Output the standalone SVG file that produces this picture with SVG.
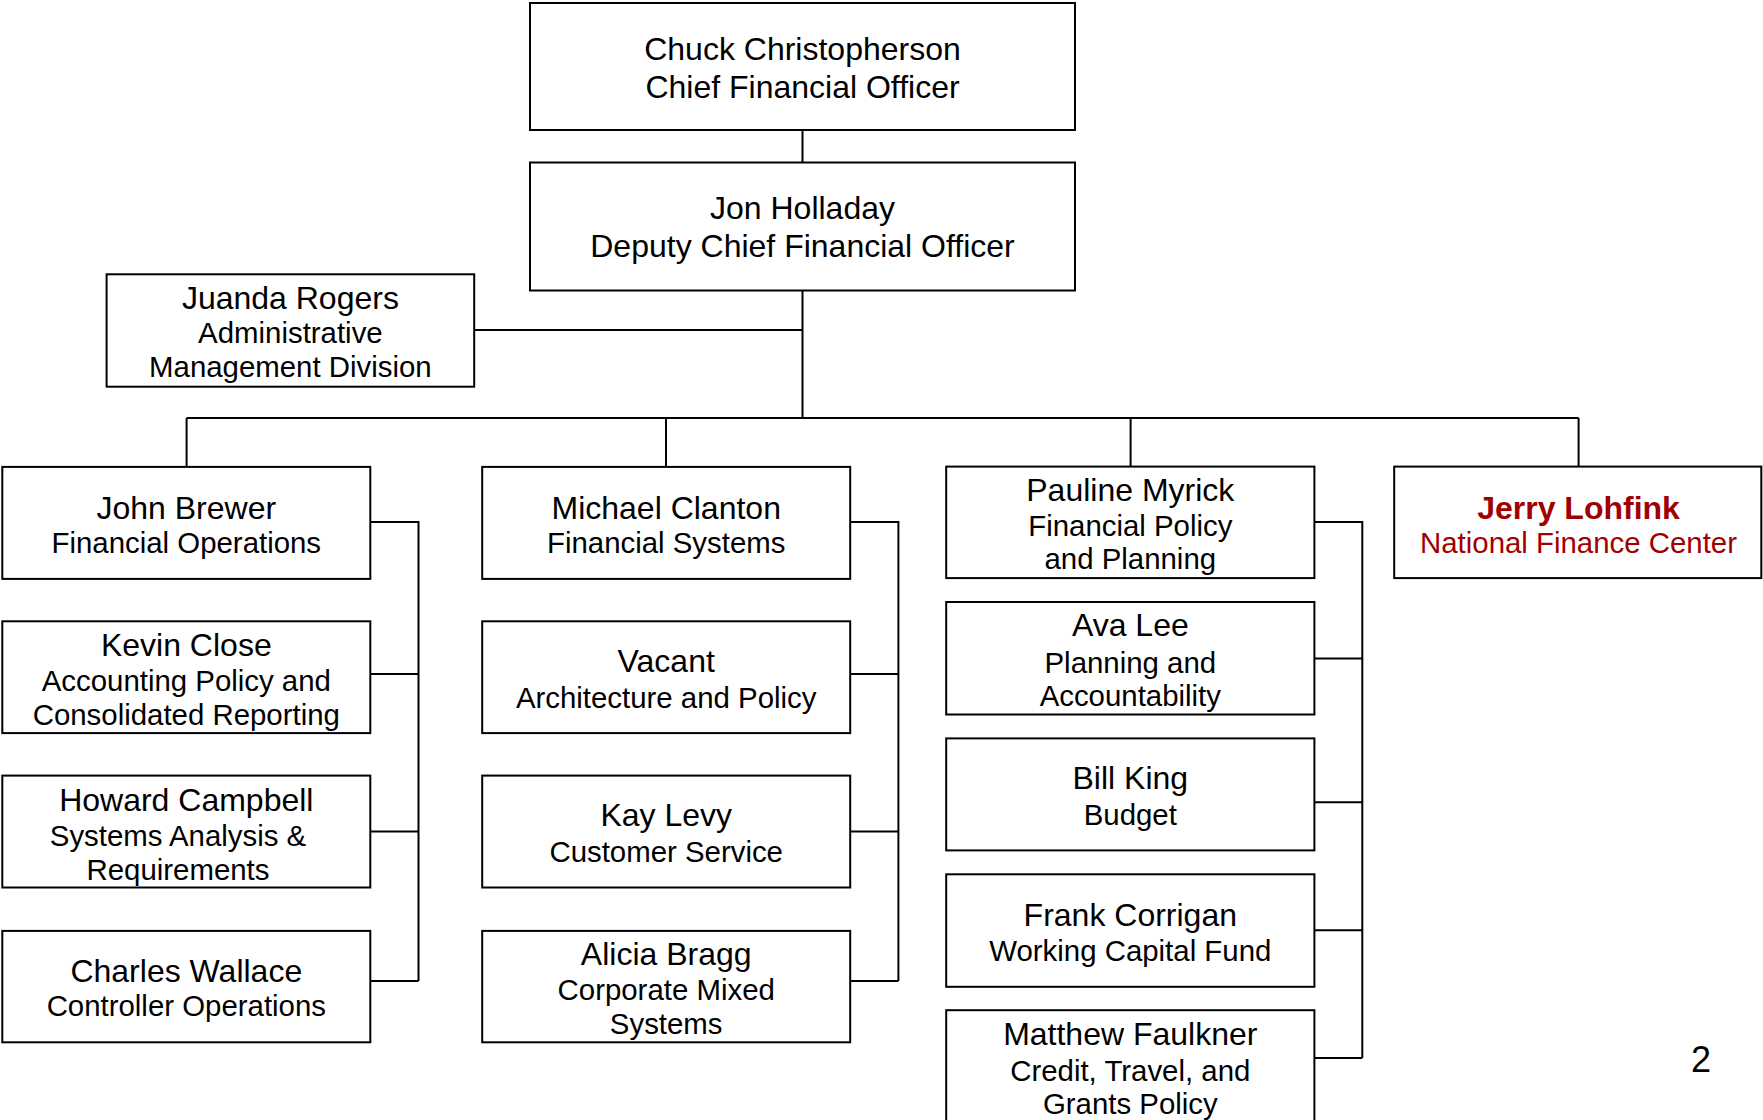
<svg xmlns="http://www.w3.org/2000/svg" width="1763" height="1120" viewBox="0 0 1763 1120">
<style>
.box{fill:#fff;stroke:#000;stroke-width:2}
.ln{fill:none;stroke:#000;stroke-width:2}
text{font-family:"Liberation Sans",Arial,sans-serif;text-anchor:middle;fill:#000}
.n{font-size:32px}
.s{font-size:29.4px}
.red{fill:#a00000}
.b{font-weight:bold}
</style>
<rect width="1763" height="1120" fill="#fff"/>
<g id="connectors">
<path class="ln" d="M802.5 130V162M802.5 290V418M474 330H802.5M186.6 418H1578.6M186.6 418V466.6M666 418V466.6M1130.6 418V466.6M1578.6 418V466.6"/>
<path class="ln" d="M370 522H418.5V981M370 674H418.5M370 831.5H418.5M370 981H418.5"/>
<path class="ln" d="M850 522H898.4V981M850 674H898.4M850 831.5H898.4M850 981H898.4"/>
<path class="ln" d="M1314 522H1362.3V1058M1314 658.5H1362.3M1314 802.2H1362.3M1314 930.3H1362.3M1314 1058H1362.3"/>
</g>
<g id="cfo"><rect class="box" x="530" y="3" width="545" height="127"/>
<text class="n" x="802.5" y="59.5">Chuck Christopherson</text><text class="n" x="802.5" y="97.5">Chief Financial Officer</text></g>
<g id="dcfo"><rect class="box" x="530" y="162.5" width="545" height="128"/>
<text class="n" x="802.5" y="219">Jon Holladay</text><text class="n" x="802.5" y="257">Deputy Chief Financial Officer</text></g>
<g id="rogers"><rect class="box" x="106.6" y="274.3" width="367.6" height="112.4"/>
<text class="n" x="290.4" y="309">Juanda Rogers</text><text class="s" x="290.4" y="343">Administrative</text><text class="s" x="290.4" y="377">Management Division</text></g>
<g id="brewer"><rect class="box" x="2.3" y="466.9" width="368" height="112"/>
<text class="n" x="186.3" y="518.5">John Brewer</text><text class="s" x="186.3" y="552.5">Financial Operations</text></g>
<g id="close"><rect class="box" x="2.3" y="621.3" width="368" height="111.8"/>
<text class="n" x="186.3" y="655.5">Kevin Close</text><text class="s" x="186.3" y="690.5">Accounting Policy and</text><text class="s" x="186.3" y="724.5">Consolidated Reporting</text></g>
<g id="campbell"><rect class="box" x="2.3" y="775.6" width="368" height="111.9"/>
<text class="n" x="186.3" y="810.5">Howard Campbell</text><text class="s" x="178" y="846">Systems Analysis &amp;</text><text class="s" x="178" y="880">Requirements</text></g>
<g id="wallace"><rect class="box" x="2.3" y="930.9" width="368" height="111.4"/>
<text class="n" x="186.3" y="981.5">Charles Wallace</text><text class="s" x="186.3" y="1015.7">Controller Operations</text></g>
<g id="clanton"><rect class="box" x="482.2" y="466.9" width="368" height="112"/>
<text class="n" x="666.2" y="518.5">Michael Clanton</text><text class="s" x="666.2" y="552.5">Financial Systems</text></g>
<g id="vacant"><rect class="box" x="482.2" y="621.3" width="368" height="111.8"/>
<text class="n" x="666.2" y="672">Vacant</text><text class="s" x="666.2" y="707.5">Architecture and Policy</text></g>
<g id="levy"><rect class="box" x="482.2" y="775.6" width="368" height="111.9"/>
<text class="n" x="666.2" y="826">Kay Levy</text><text class="s" x="666.2" y="861.5">Customer Service</text></g>
<g id="bragg"><rect class="box" x="482.2" y="930.9" width="368" height="111.4"/>
<text class="n" x="666.2" y="964.5">Alicia Bragg</text><text class="s" x="666.2" y="1000">Corporate Mixed</text><text class="s" x="666.2" y="1034">Systems</text></g>
<g id="myrick"><rect class="box" x="946.2" y="466.6" width="368.2" height="111.5"/>
<text class="n" x="1130.3" y="501">Pauline Myrick</text><text class="s" x="1130.3" y="535.5">Financial Policy</text><text class="s" x="1130.3" y="569">and Planning</text></g>
<g id="lee"><rect class="box" x="946.2" y="602" width="368.2" height="112.5"/>
<text class="n" x="1130.3" y="636">Ava Lee</text><text class="s" x="1130.3" y="673">Planning and</text><text class="s" x="1130.3" y="705.5">Accountability</text></g>
<g id="king"><rect class="box" x="946.2" y="738.4" width="368.2" height="112"/>
<text class="n" x="1130.3" y="789">Bill King</text><text class="s" x="1130.3" y="824.5">Budget</text></g>
<g id="corrigan"><rect class="box" x="946.2" y="874.3" width="368.2" height="112.5"/>
<text class="n" x="1130.3" y="926">Frank Corrigan</text><text class="s" x="1130.3" y="960.5">Working Capital Fund</text></g>
<g id="faulkner"><rect class="box" x="946.2" y="1010.2" width="368.2" height="130"/>
<text class="n" x="1130.3" y="1044.5">Matthew Faulkner</text><text class="s" x="1130.3" y="1081">Credit, Travel, and</text><text class="s" x="1130.3" y="1113.5">Grants Policy</text></g>
<g id="lohfink"><rect class="box" x="1394.2" y="466.6" width="367.1" height="111.5"/>
<text class="n b red" x="1578.5" y="518.5">Jerry Lohfink</text><text class="s red" x="1578.5" y="552.5">National Finance Center</text></g>
<text x="1701" y="1072" style="font-size:36px">2</text>
</svg>
